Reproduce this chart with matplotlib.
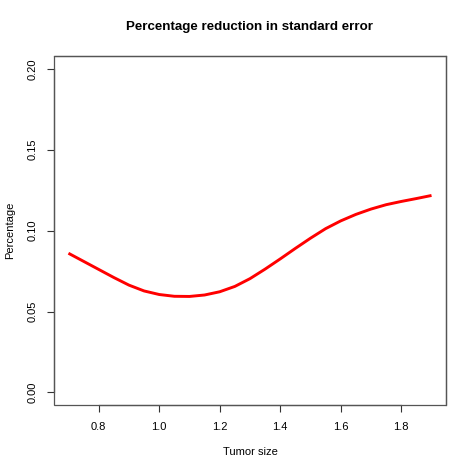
import matplotlib
matplotlib.use("Agg")
import matplotlib.pyplot as plt

# values
tumor_size = [0.70, 0.75, 0.80, 0.85, 0.90, 0.95, 1.00, 1.05, 1.10, 1.15,
              1.20, 1.25, 1.30, 1.35, 1.40, 1.45, 1.50, 1.55, 1.60, 1.65,
              1.70, 1.75, 1.80, 1.85, 1.90]
percentage = [0.0860, 0.0810, 0.0760, 0.0710, 0.0663, 0.0627, 0.0605, 0.0594,
              0.0593, 0.0602, 0.0622, 0.0655, 0.0703, 0.0762, 0.0825, 0.0890,
              0.0953, 0.1012, 0.1060, 0.1100, 0.1133, 0.1160, 0.1180, 0.1198,
              0.1217]
x_ticks = [0.8, 1.0, 1.2, 1.4, 1.6, 1.8]
y_ticks = [0.00, 0.05, 0.10, 0.15, 0.20]

plt.rcParams['font.family'] = ['Liberation Sans', 'DejaVu Sans']

fig = plt.figure(figsize=(4.73, 4.73), dpi=100)
ax = fig.add_axes([0.114, 0.143, 0.829, 0.739])

ax.plot(tumor_size, percentage, color='red', lw=2.1, solid_capstyle='butt')

# R style 4% padding
ax.set_xlim(0.652, 1.948)
ax.set_ylim(-0.008, 0.208)
ax.set_xticks(x_ticks)
ax.set_xticklabels(["%.1f" % v for v in x_ticks])
ax.set_yticks(y_ticks)
ax.set_yticklabels(["%.2f" % v for v in y_ticks], rotation=90, va='center')
ax.tick_params(labelsize=8, length=5, width=0.8, color='#333333', pad=7)

ax.spines['left'].set_bounds(0.0, 0.20)
ax.spines['bottom'].set_bounds(0.8, 1.8)
for s in ax.spines.values():
    s.set_color('#555555')
    s.set_linewidth(0.9)

# box around plot region
ax.add_patch(plt.Rectangle((0, 0), 1, 1, transform=ax.transAxes, fill=False,
                           ec='#555555', lw=0.9, clip_on=False))

fig.text(0.5285, 0.943, "Percentage reduction in standard error", fontsize=9.6,
         fontweight='bold', ha='center', va='center')
ax.set_xlabel("Tumor size", fontsize=8)
ax.xaxis.set_label_coords(0.5, -0.133)
ax.xaxis.label.set_va('center')
ax.set_ylabel("Percentage", fontsize=8)
ax.yaxis.set_label_coords(-0.112, 0.5)
ax.yaxis.label.set_va('center')

fig.savefig("out.png", dpi=100)
